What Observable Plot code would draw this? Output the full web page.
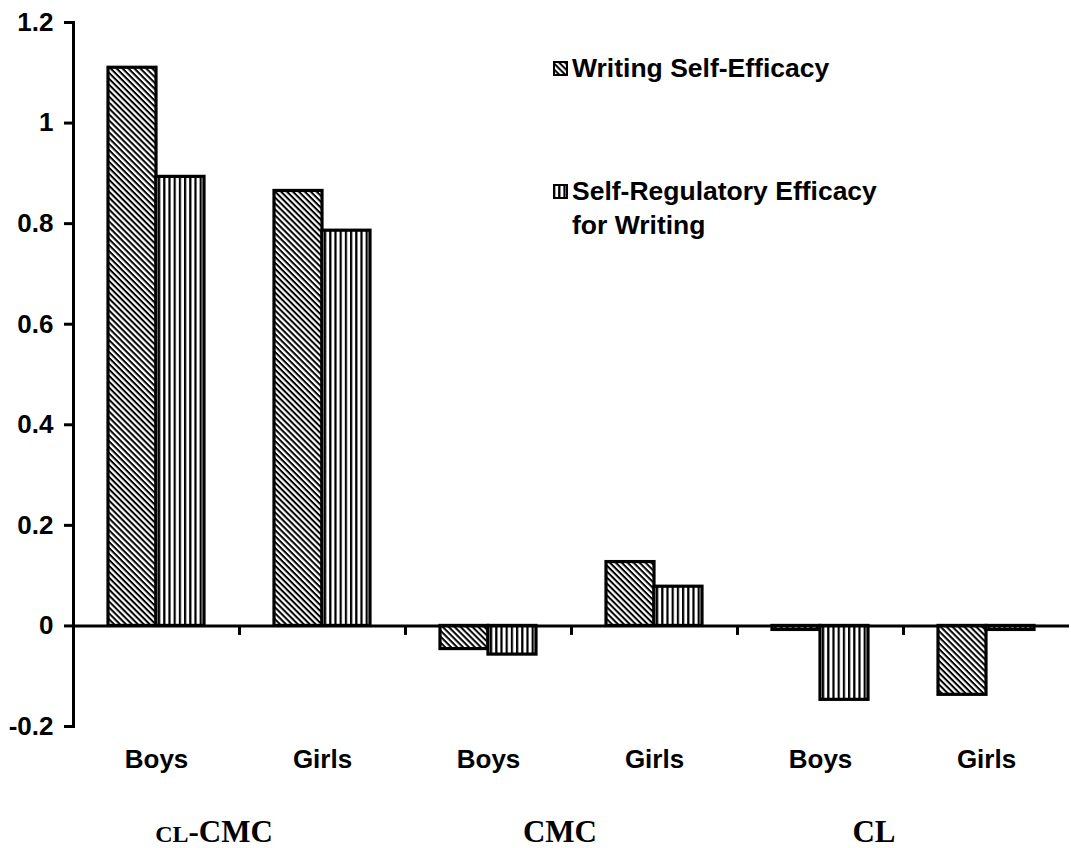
<!DOCTYPE html>
<html>
<head>
<meta charset="utf-8">
<script src="https://cdn.jsdelivr.net/npm/d3@7"></script>
<script src="https://cdn.jsdelivr.net/npm/@observablehq/plot@0.6"></script>
<style>
  html, body { margin: 0; padding: 0; background: #fff; }
  #wrap { position: relative; width: 1071px; height: 848px; overflow: hidden; }
  .leg { position: absolute; font-family: "Liberation Sans", Arial, sans-serif; font-weight: bold; font-size: 26.5px; color: #000; line-height: 34px; }
  .leg .row { display: flex; align-items: flex-start; }
  .leg svg { flex: none; margin-top: 10px; margin-right: 4px; }
  .grp { position: absolute; font-family: "Liberation Serif", "Times New Roman", serif; font-weight: bold; font-size: 31px; color: #000; transform: translateX(-50%); line-height: 32px; white-space: nowrap; }
</style>
</head>
<body>
<svg width="0" height="0" style="position:absolute">
  <defs>
    <pattern id="diag" patternUnits="userSpaceOnUse" width="4.2" height="4.2" patternTransform="rotate(45)">
      <rect width="4.2" height="4.2" fill="#fff"/>
      <rect y="0" width="4.2" height="2" fill="#000"/>
    </pattern>
    <pattern id="vert" patternUnits="userSpaceOnUse" width="5.2" height="5.2">
      <rect width="5.2" height="5.2" fill="#fff"/>
      <rect x="0" width="2.2" height="5.2" fill="#000"/>
    </pattern>
  </defs>
</svg>
<div id="wrap"></div>
<script>
const groups = ["CL-CMC", "CMC", "CL"];
const sexes = ["Boys", "Girls"];
const seriesNames = ["Writing Self-Efficacy", "Self-Regulatory Efficacy for Writing"];
// values in order: CL-CMC Boys, CL-CMC Girls, CMC Boys, CMC Girls, CL Boys, CL Girls
const writingSelfEfficacy = [1.11, 0.865, -0.046, 0.127, -0.008, -0.137];
const selfRegulatoryEfficacy = [0.893, 0.786, -0.057, 0.078, -0.147, -0.008];
const yTicks = [-0.2, 0, 0.2, 0.4, 0.6, 0.8, 1, 1.2];
const groupLabelCenters = [214, 560, 874]; // layout of the group captions (px)

const cells = [];
groups.forEach(g => sexes.forEach(s => cells.push(g + " " + s)));
const rows = [];
cells.forEach((c, i) => {
  rows.push({cell: c, series: seriesNames[0], value: writingSelfEfficacy[i]});
  rows.push({cell: c, series: seriesNames[1], value: selfRegulatoryEfficacy[i]});
});

const stub = {draw(ctx) { ctx.moveTo(0, 0); ctx.lineTo(0, 9); }};

const chart = Plot.plot({
  width: 1071,
  height: 795,
  marginLeft: 71,
  marginRight: 0,
  marginTop: 22,
  marginBottom: 69,
  style: {fontFamily: "'Liberation Sans', Arial, sans-serif", fontWeight: "bold", color: "#000", background: "#fff"},
  fx: {domain: cells, padding: 0, label: null},
  x: {domain: seriesNames, paddingInner: 0, paddingOuter: 0.72, axis: null},
  y: {domain: [-0.2, 1.2], axis: null},
  marks: [
    Plot.barY(rows.filter(d => d.series === seriesNames[0]), {fx: "cell", x: "series", y: "value", fill: "url(#diag)", stroke: "#000", strokeWidth: 3.2}),
    Plot.barY(rows.filter(d => d.series === seriesNames[1]), {fx: "cell", x: "series", y: "value", fill: "url(#vert)", stroke: "#000", strokeWidth: 3.2}),
    Plot.ruleY([0], {stroke: "#000", strokeWidth: 3}),
    Plot.dot([0], {y: d => d, frameAnchor: "left", symbol: stub, stroke: "#000", strokeWidth: 3, fill: "none", r: 5}),
    Plot.frame({anchor: "left", stroke: "#000", strokeWidth: 3, facetAnchor: "left"}),
    Plot.axisY({ticks: yTicks, tickSize: 9, tickPadding: 11, strokeWidth: 3, fontSize: 26, fontWeight: "bold", tickFormat: d => String(+d.toFixed(1)), label: null}),
    Plot.axisFx({anchor: "bottom", tickSize: 0, tickPadding: 23, fontSize: 26, fontWeight: "bold", tickFormat: d => d.split(" ")[1], label: null})
  ]
});

const wrap = document.getElementById("wrap");
wrap.appendChild(chart);

// legend
function swatch(id, size) {
  return `<svg width="${size}" height="${size}"><rect x="1" y="1" width="${size-2}" height="${size-2}" fill="url(#${id})" stroke="#000" stroke-width="2"/></svg>`;
}
const leg = document.createElement("div");
leg.className = "leg";
leg.style.left = "553px";
leg.style.top = "51px";
leg.innerHTML =
  `<div class="row">${swatch("diag", 15)}<div>${seriesNames[0]}</div></div>` +
  `<div class="row" style="margin-top:89px">${swatch("vert", 15)}<div>Self-Regulatory Efficacy<br>for Writing</div></div>`;
wrap.appendChild(leg);

// group captions
groups.forEach((g, i) => {
  const el = document.createElement("div");
  el.className = "grp";
  el.style.left = groupLabelCenters[i] + "px";
  el.style.top = "816px";
  el.innerHTML = g === "CL-CMC" ? '<span style="font-size:24px">CL</span>-CMC' : g;
  wrap.appendChild(el);
});
</script>
</body>
</html>
